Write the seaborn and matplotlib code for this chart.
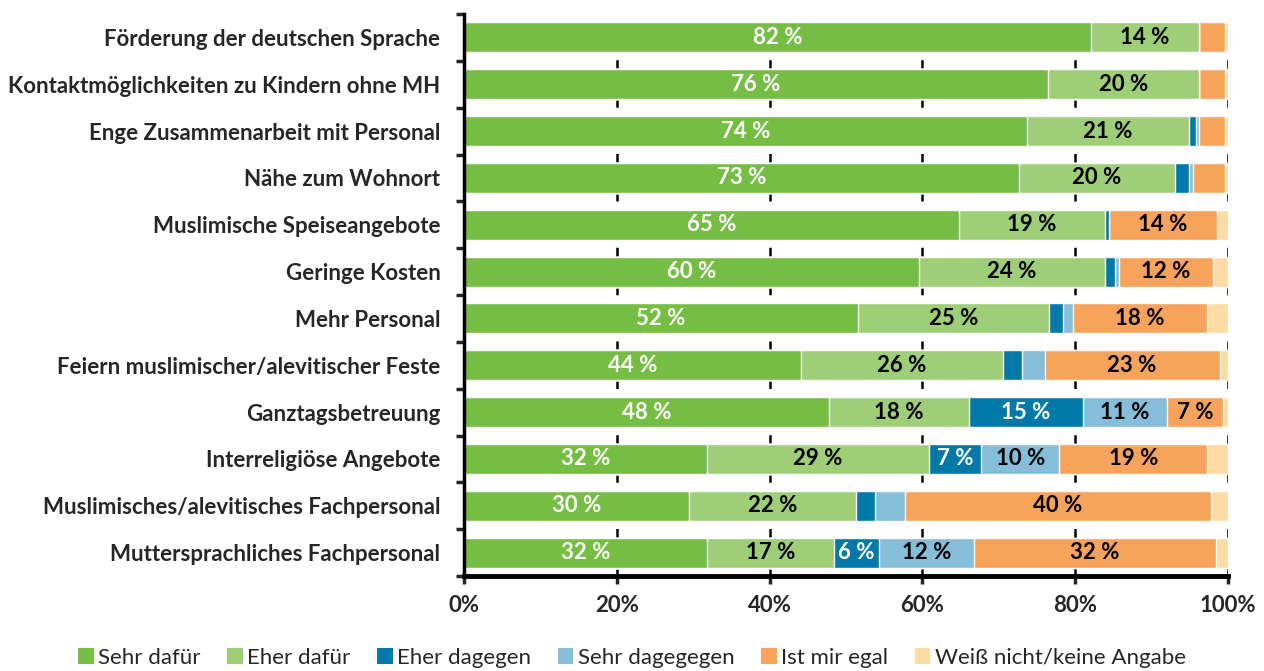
import numpy as np
import pandas as pd
import matplotlib
matplotlib.use("Agg")
import matplotlib.pyplot as plt
from matplotlib.patches import Patch
import seaborn as sns

# Daten (Anteile in %)
kategorien = [
    "Förderung der deutschen Sprache",
    "Kontaktmöglichkeiten zu Kindern ohne MH",
    "Enge Zusammenarbeit mit Personal",
    "Nähe zum Wohnort",
    "Muslimische Speiseangebote",
    "Geringe Kosten",
    "Mehr Personal",
    "Feiern muslimischer/alevitischer Feste",
    "Ganztagsbetreuung",
    "Interreligiöse Angebote",
    "Muslimisches/alevitisches Fachpersonal",
    "Muttersprachliches Fachpersonal",
]
sehr_dafuer   = [82.1, 76.4, 73.7, 72.6, 64.8, 59.6, 51.6, 44.1, 47.8, 31.8, 29.5, 31.8]
eher_dafuer   = [14.1, 19.8, 21.2, 20.5, 19.1, 24.3, 25.0, 26.4, 18.3, 29.1, 21.8, 16.6]
eher_dagegen  = [0.0, 0.0, 0.9, 1.8, 0.5, 1.3, 1.8, 2.6, 14.9, 6.8, 2.5, 5.9]
sehr_dagegen  = [0.0, 0.0, 0.4, 0.5, 0.0, 0.5, 1.3, 2.9, 11.0, 10.2, 3.9, 12.4]
egal          = [3.4, 3.4, 3.4, 4.2, 14.1, 12.4, 17.5, 22.9, 7.4, 19.4, 40.1, 31.7]
weiss_nicht   = [0.4, 0.4, 0.4, 0.4, 1.5, 1.9, 2.8, 1.1, 0.6, 2.7, 2.2, 1.6]

serien = ["Sehr dafür", "Eher dafür", "Eher dagegen", "Sehr dagegegen",
          "Ist mir egal", "Weiß nicht/keine Angabe"]
farben = ["#76BE43", "#9ECE78", "#0078A8", "#86BDD8", "#F7A35C", "#FDDCA3"]
textfarben = ["white", "black", "white", "black", "black", "black"]

df = pd.DataFrame({
    "kategorie": kategorien,
    serien[0]: sehr_dafuer,
    serien[1]: eher_dafuer,
    serien[2]: eher_dagegen,
    serien[3]: sehr_dagegen,
    serien[4]: egal,
    serien[5]: weiss_nicht,
})
kum = df[serien].cumsum(axis=1)

sns.set_style("white")
plt.rcParams["font.family"] = ["Lato", "DejaVu Sans"]

fig = plt.figure(figsize=(12.64, 6.71), dpi=100)
ax = fig.add_axes([464 / 1264, 1 - 576 / 671, 764 / 1264, 562 / 671])

# gestapelte Balken: kumulierte Summen von hinten nach vorne zeichnen
for s, c in reversed(list(zip(serien, farben))):
    sns.barplot(x=kum[s], y=df["kategorie"], color=c, orient="h",
                width=0.64, saturation=1, ax=ax, zorder=2)

# Beschriftungen
for i in range(len(kategorien)):
    for s, tc in zip(serien, textfarben):
        v = df.loc[i, s]
        if v >= 5:
            ax.text(kum.loc[i, s] - v / 2, i, f"{round(v)} %", ha="center",
                    va="center", color=tc, fontsize=16, fontweight="bold", zorder=3)

ax.set_xlim(0, 100)
ax.set_ylim(11.5, -0.5)
ax.set_xticks([0, 20, 40, 60, 80, 100])
ax.set_xticklabels(["0%", "20%", "40%", "60%", "80%", "100%"],
                   fontsize=16, fontweight="bold")
ax.set_yticks(range(len(kategorien)))
ax.set_yticklabels(kategorien, fontsize=16, fontweight="bold")
ax.set_yticks(np.arange(-0.5, 12, 1), minor=True)
ax.tick_params(axis="y", which="major", length=0, pad=17)
ax.tick_params(axis="y", which="minor", length=6, width=2.5, direction="out", left=True)
ax.tick_params(axis="x", length=6, width=2.5, direction="out", bottom=True, pad=8)
ax.set_xlabel("")
ax.set_ylabel("")

for side in ["top", "right"]:
    ax.spines[side].set_visible(False)
ax.spines["left"].set_linewidth(2.5)
ax.spines["bottom"].set_linewidth(3.5)
ax.spines["left"].set_color("black")
ax.spines["bottom"].set_color("black")

ax.set_axisbelow(True)
ax.xaxis.grid(True, color="black", linestyle=(0, (4, 3.5)), linewidth=1.8, zorder=0)
ax.yaxis.grid(False)

handles = [Patch(facecolor=c, edgecolor="none", label=s) for s, c in zip(serien, farben)]
fig.legend(handles=handles, loc="lower center", bbox_to_anchor=(0.5, -0.025), ncol=6,
           frameon=False, fontsize=16, handlelength=0.7, handleheight=0.7,
           handletextpad=0.2, columnspacing=1.2)

fig.savefig("out.png", dpi=100)
